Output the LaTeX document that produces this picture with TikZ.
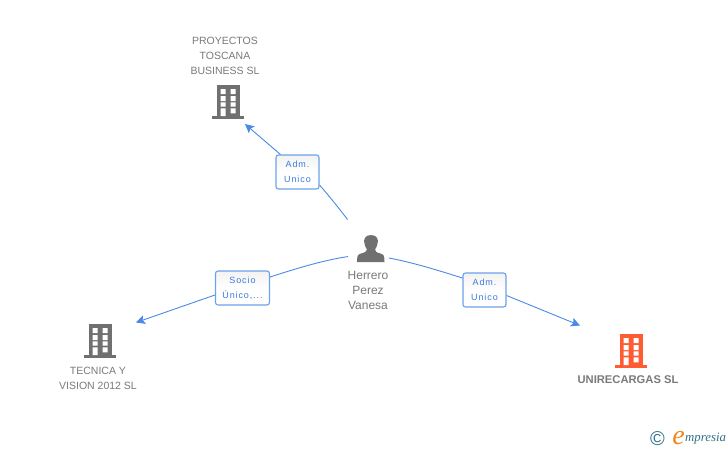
\documentclass[tikz,border=0pt]{standalone}
\usepackage{fontspec}
\setmainfont{Liberation Sans}
\newfontfamily\logofont{Liberation Serif}
\newfontfamily\spacedfont[LetterSpace=10]{Liberation Sans}
\definecolor{txtgrey}{HTML}{7A7A7A}
\definecolor{icongrey}{HTML}{707070}
\definecolor{iconorange}{HTML}{FF5C33}
\definecolor{linkblue}{HTML}{4A8AE6}
\definecolor{boxblue}{HTML}{6CA2EA}
\definecolor{labelblue}{HTML}{3C7BDC}
\definecolor{logoteal}{HTML}{2F7288}
\definecolor{logoorange}{HTML}{F0861E}
\usetikzlibrary{arrows.meta}
\tikzset{
  x=1pt,y=-1pt,
  nametext/.style={text=txtgrey,font=\fontsize{10.5}{15}\selectfont,align=center,inner sep=0pt},
  linkbox/.style={draw=boxblue,line width=1.1pt,rounded corners=2.5pt,top color=black!5,bottom color=white,middle color=white,
    text=labelblue,font=\spacedfont\fontsize{9}{15}\selectfont,align=center,inner sep=0pt},
  link/.style={draw=linkblue,line width=0.9pt},
  linkarrow/.style={link,-{Stealth[length=9pt,width=9pt,inset=2pt]}},
  building/.pic={
    \fill[pic actions] (-11,-31) rectangle (11.5,0);
    \fill[pic actions] (-16,0) rectangle (16,3);
    \fill[white] (-7.3,-27) rectangle (-2.3,-22) (2.7,-27) rectangle (7.7,-22)
                 (-7.3,-20) rectangle (-2.3,-15) (2.7,-20) rectangle (7.7,-15)
                 (-7.3,-13.7) rectangle (-2.3,-9.3) (2.7,-13.7) rectangle (7.7,-9.3)
                 (-7.3,-7.7) rectangle (-2.3,0) (2.7,-7.7) rectangle (7.7,-2.7);
  }
}
\begin{document}
\begin{tikzpicture}
\useasboundingbox (0,0) rectangle (728,450);
\fill[white] (0,0) rectangle (728,450);

% companies
\pic[fill=icongrey] at (228,116) {building};
\pic[fill=icongrey] at (100,355) {building};
\pic[fill=iconorange] at (631,365) {building};

\node[nametext] (proy) at (225,56) {PROYECTOS\\TOSCANA\\BUSINESS SL};
\node[nametext] (tec) at (98,378) {TECNICA Y\\VISION 2012 SL};
\node[nametext,font=\bfseries\fontsize{11.2}{15}\selectfont] (uni) at (628,380) {UNIRECARGAS SL};

% person
\fill[icongrey] (371,235) .. controls (365,235) and (363.5,239.5) .. (364.3,243)
  .. controls (364.8,246) and (366,248) .. (367,249.5)
  .. controls (367,251.5) and (365,252.5) .. (361,253.5)
  .. controls (357.5,254.5) and (357,256) .. (357,262)
  -- (384.5,262)
  .. controls (384.5,256) and (384,254.5) .. (380.5,253.5)
  .. controls (376.5,252.5) and (375,251.5) .. (375,249.5)
  .. controls (376,248) and (377.2,246) .. (377.7,243)
  .. controls (378.5,239.5) and (377,235) .. (371,235) -- cycle;
\node[nametext,font=\fontsize{12}{15}\selectfont] (person) at (368,290.5) {Herrero\\ Perez\\Vanesa};

% link labels
\node[linkbox,minimum width=43pt,minimum height=34pt] (b1) at (297.5,172) {Adm.\\Unico};
\node[linkbox,minimum width=54pt,minimum height=34pt] (b2) at (242.5,288) {Socio\\Único,...};
\node[linkbox,minimum width=43pt,minimum height=34pt] (b3) at (484.5,290) {Adm.\\Unico};

% connector ends
\coordinate (p1) at (347.5,219.5);
\coordinate (p2) at (348,256.5);
\coordinate (p3) at (389,258);
\coordinate (t1) at (245,124);
\coordinate (t2) at (136,322.5);
\coordinate (t3) at (580,325.5);

\draw[link] (p1) .. controls (338,207) and (329,196) .. (b1.east|-0,185);
\draw[linkarrow] (b1.north west) ++(5,0) -- (t1);
\draw[link] (p2) .. controls (320,261) and (295,269) .. (b2.east|-0,277);
\draw[linkarrow] (b2.west|-0,295) -- (t2);
\draw[link] (p3) .. controls (415,263) and (440,271) .. (b3.west|-0,278);
\draw[linkarrow] (b3.east|-0,295.5) -- (t3);

% logo
\node[inner sep=0pt,text=logoteal,font=\fontsize{20}{20}\selectfont] (copy) at (657.5,439) {©};
\node[inner sep=0pt,text=logoorange,font=\logofont\itshape\fontsize{28}{28}\selectfont] (loge) at (678.5,438) {e};
\node[inner sep=0pt,text=logoteal,anchor=west,font=\logofont\itshape\fontsize{12.8}{13}\selectfont] (logt) at (685,439) {mpresia};
\end{tikzpicture}
\end{document}
